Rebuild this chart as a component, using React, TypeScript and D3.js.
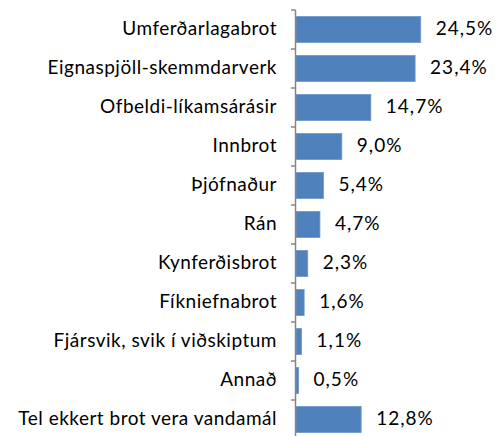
import React from "react";
import * as d3 from "d3";

const categories = [
  "Umferðarlagabrot",
  "Eignaspjöll-skemmdarverk",
  "Ofbeldi-líkamsárásir",
  "Innbrot",
  "Þjófnaður",
  "Rán",
  "Kynferðisbrot",
  "Fíkniefnabrot",
  "Fjársvik, svik í viðskiptum",
  "Annað",
  "Tel ekkert brot vera vandamál",
];
const values = [24.5, 23.4, 14.7, 9.0, 5.4, 4.7, 2.3, 1.6, 1.1, 0.5, 12.8];
const valueLabels = ["24,5%", "23,4%", "14,7%", "9,0%", "5,4%", "4,7%", "2,3%", "1,6%", "1,1%", "0,5%", "12,8%"];

const W = 497;
const H = 436;
const FONT = "Lato, 'Open Sans', sans-serif";

export default function App() {
  const axisX = 295.5;
  const x = d3.scaleLinear().domain([0, 25]).range([296, 296 + 127.25]);
  const y = d3
    .scaleBand<string>()
    .domain(categories)
    .range([10, 10 + categories.length * 39])
    .paddingInner(1 / 3)
    .paddingOuter(1 / 6);
  const step = y.step();
  const ticks = d3.range(categories.length + 1).map((i) => 10 + i * step);

  return (
    <svg
      width={W}
      height={H}
      style={{ position: "absolute", left: 0, top: 0, background: "#fff" }}
    >
      {categories.map((c, i) => {
        const yy = y(c)!;
        const bw = y.bandwidth();
        return (
          <g key={c}>
            <rect
              x={x(0)}
              y={yy}
              width={Math.max(0, x(values[i]) - x(0))}
              height={bw}
              fill="#4F81BD"
              stroke="#6E96C9"
              strokeWidth={0.8}
            />
            <text
              x={277}
              y={yy + bw / 2}
              dy="0.3em"
              textAnchor="end"
              fontFamily={FONT}
              fontSize={19}
              letterSpacing={0.5}
              fill="#000"
            >
              {c}
            </text>
            <text
              x={x(values[i]) + 15}
              y={yy + bw / 2}
              dy="0.3em"
              textAnchor="start"
              fontFamily={FONT}
              fontSize={19}
              letterSpacing={1}
              fill="#000"
            >
              {valueLabels[i]}
            </text>
          </g>
        );
      })}
      <line x1={axisX} x2={axisX} y1={10} y2={H} stroke="#868686" strokeWidth={1.5} />
      {ticks.map((t, i) => (
        <line key={i} x1={291} x2={axisX} y1={t} y2={t} stroke="#868686" strokeWidth={1.5} />
      ))}
    </svg>
  );
}
